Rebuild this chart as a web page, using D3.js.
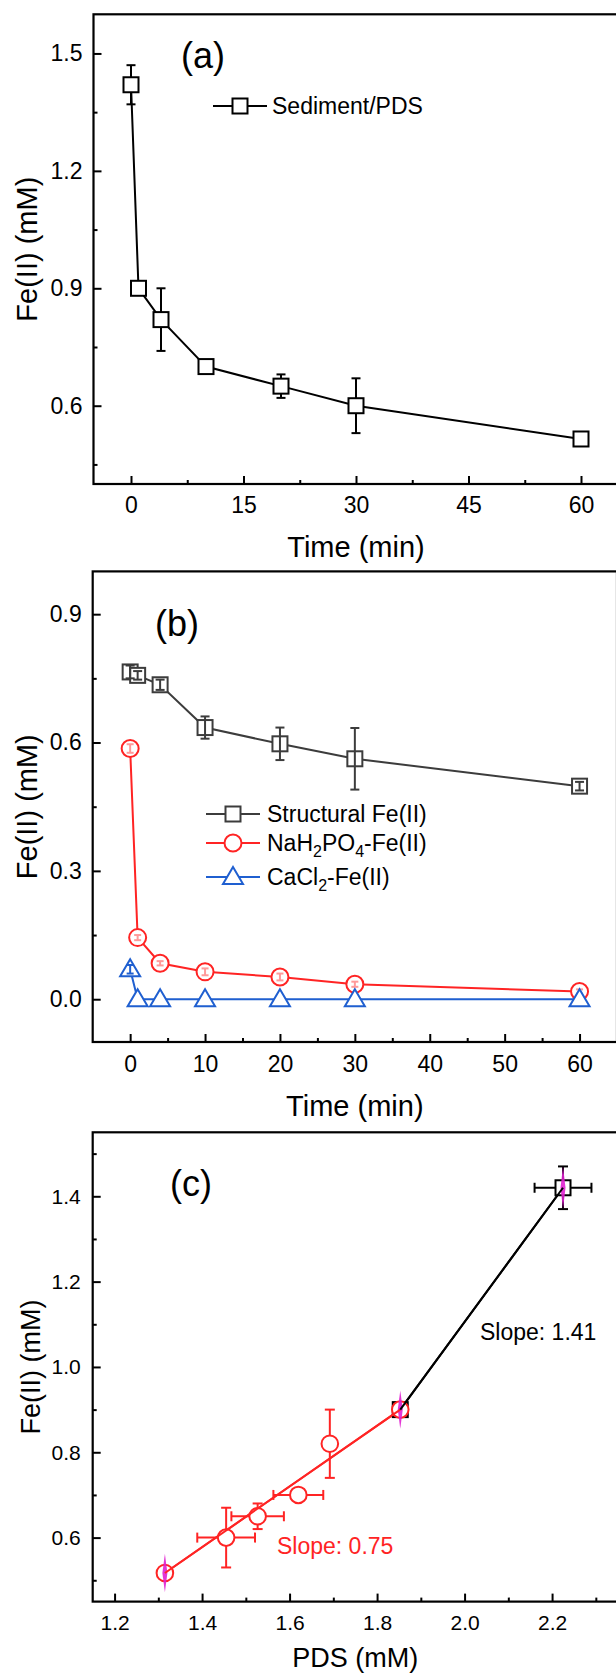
<!DOCTYPE html>
<html>
<head>
<meta charset="utf-8">
<script src="https://cdn.jsdelivr.net/npm/d3@7"></script>
<style>
  body { margin: 0; background: #fff; }
  text { font-family: "Liberation Sans", Arial, sans-serif; fill: #000; }
</style>
</head>
<body>
<div id="chart"></div>
<script>
// panel (a): Sediment/PDS
var timeA = [0, 1, 4, 10, 20, 30, 60];
var feA = [1.42, 0.90, 0.82, 0.70, 0.65, 0.60, 0.515];
var feAErr = [0.05, 0.012, 0.08, 0.012, 0.03, 0.07, 0.012];

// panel (b)
var timeB = [0, 1, 4, 10, 20, 30, 60];
var structB = [0.765, 0.757, 0.735, 0.635, 0.597, 0.562, 0.498];
var structErr = [0.015, 0.01, 0.012, 0.026, 0.038, 0.072, 0.01];
var phosB = [0.586, 0.144, 0.084, 0.064, 0.052, 0.035, 0.018];
var phosErr = [0.01, 0.006, 0.005, 0.008, 0.008, 0.006, 0.005];
var caclB = [0.07, 0, 0, 0, 0, 0, 0];
var caclErr = [0.01, 0, 0, 0, 0, 0, 0];

// panel (c)
var pdsRed = [1.315, 1.455, 1.527, 1.62, 1.692, 1.853];
var feRed = [0.517, 0.60, 0.65, 0.70, 0.82, 0.90];
var pdsRedErr = [0.005, 0.066, 0.06, 0.057, 0.005, 0.01];
var feRedErr = [0.01, 0.07, 0.03, 0.01, 0.08, 0.01];
var fitRedX = [1.315, 1.853];
var fitRedY = [0.517, 0.90];
var pdsBlack = [1.853, 2.225];
var feBlack = [0.90, 1.42];
var pdsBlackErr = [0.01, 0.065];
var feBlackErr = [0.01, 0.05];
var pinkX = [1.315, 1.853, 2.225];
var pinkY = [0.517, 0.90, 1.42];
var pinkErr = [0.045, 0.045, 0.05];

var ticksAX = [0, 15, 30, 45, 60], minorAX = [7.5, 22.5, 37.5, 52.5];
var ticksAY = [0.6, 0.9, 1.2, 1.5], minorAY = [0.45, 0.75, 1.05, 1.35];
var ticksBX = [0, 10, 20, 30, 40, 50, 60], minorBX = [5, 15, 25, 35, 45, 55];
var ticksBY = [0.0, 0.3, 0.6, 0.9], minorBY = [0.15, 0.45, 0.75];
var ticksCX = [1.2, 1.4, 1.6, 1.8, 2.0, 2.2], minorCX = [1.3, 1.5, 1.7, 1.9, 2.1, 2.3];
var ticksCY = [0.6, 0.8, 1.0, 1.2, 1.4], minorCY = [0.5, 0.7, 0.9, 1.1, 1.3, 1.5];

var RED = "#ff2424", BLUE = "#1f5fd0", GRAY = "#3c3c3c";

var svg = d3.select("#chart").append("svg")
    .attr("width", 616)
    .attr("height", 1675);

function frame(x, y, o) {
    var g = svg.append("g");
    var x0 = x.range()[0], x1 = x.range()[1], y0 = y.range()[0], y1 = y.range()[1];

    g.append("g").attr("transform", "translate(0," + y0 + ")")
        .call(d3.axisBottom(x).tickValues(o.xt).tickSize(-8).tickPadding(o.xpad).tickFormat(o.xf))
        .call(function(s) {
            s.select(".domain").remove();
            s.selectAll("line").attr("stroke-width", 2);
            s.selectAll("text").attr("font-size", o.fs).attr("font-family", null);
        });
    g.append("g").attr("transform", "translate(0," + y0 + ")")
        .call(d3.axisBottom(x).tickValues(o.xm).tickSize(-4).tickFormat(""))
        .call(function(s) {
            s.select(".domain").remove();
            s.selectAll("line").attr("stroke-width", 2);
        });
    g.append("g").attr("transform", "translate(" + x0 + ",0)")
        .call(d3.axisLeft(y).tickValues(o.yt).tickSize(-8).tickPadding(o.ypad).tickFormat(o.yf))
        .call(function(s) {
            s.select(".domain").remove();
            s.selectAll("line").attr("stroke-width", 2);
            s.selectAll("text").attr("font-size", o.fs).attr("font-family", null);
        });
    g.append("g").attr("transform", "translate(" + x0 + ",0)")
        .call(d3.axisLeft(y).tickValues(o.ym).tickSize(-4).tickFormat(""))
        .call(function(s) {
            s.select(".domain").remove();
            s.selectAll("line").attr("stroke-width", 2);
        });

    g.append("rect")
        .attr("x", x0).attr("y", y1)
        .attr("width", x1 - x0).attr("height", y0 - y1)
        .attr("fill", "none").attr("stroke", "#000").attr("stroke-width", 2.2);

    // axis titles
    g.append("text")
        .attr("x", (x0 + x1) / 2).attr("y", y0 + o.xtitleOff)
        .attr("text-anchor", "middle").attr("font-size", o.tfs)
        .text(o.xtitle);
    g.append("text")
        .attr("transform", "translate(" + o.ytitleX + "," + (y0 + y1) / 2 + ") rotate(-90)")
        .attr("text-anchor", "middle").attr("dominant-baseline", "central")
        .attr("font-size", o.tfs)
        .text("Fe(II) (mM)");
    g.append("text")
        .attr("x", o.lx).attr("y", o.ly)
        .attr("font-size", 36)
        .text(o.label);
}

function vErr(g, xs, ys, es, x, y, color, cap) {
    xs.forEach(function(d, i) {
        if (!es[i]) return;
        var cx = x(d), t = y(ys[i] + es[i]), b = y(ys[i] - es[i]);
        g.append("line").attr("x1", cx).attr("x2", cx).attr("y1", t).attr("y2", b)
            .attr("stroke", color).attr("stroke-width", 2);
        [t, b].forEach(function(v) {
            g.append("line").attr("x1", cx - cap).attr("x2", cx + cap).attr("y1", v).attr("y2", v)
                .attr("stroke", color).attr("stroke-width", 2);
        });
    });
}

function hErr(g, xs, ys, es, x, y, color, cap) {
    xs.forEach(function(d, i) {
        if (!es[i]) return;
        var cy = y(ys[i]), l = x(d - es[i]), r = x(d + es[i]);
        g.append("line").attr("x1", l).attr("x2", r).attr("y1", cy).attr("y2", cy)
            .attr("stroke", color).attr("stroke-width", 2);
        [l, r].forEach(function(v) {
            g.append("line").attr("x1", v).attr("x2", v).attr("y1", cy - cap).attr("y2", cy + cap)
                .attr("stroke", color).attr("stroke-width", 2);
        });
    });
}

function line(g, xs, ys, x, y, color) {
    g.append("path")
        .datum(xs.map(function(d, i) { return [d, ys[i]]; }))
        .attr("fill", "none").attr("stroke", color).attr("stroke-width", 2)
        .attr("d", d3.line().x(function(d) { return x(d[0]); }).y(function(d) { return y(d[1]); }));
}

function squares(g, xs, ys, x, y, color, s) {
    xs.forEach(function(d, i) {
        g.append("rect").attr("x", x(d) - s / 2).attr("y", y(ys[i]) - s / 2)
            .attr("width", s).attr("height", s)
            .attr("fill", "#fff").attr("stroke", color).attr("stroke-width", 2);
    });
}

function circles(g, xs, ys, x, y, color, r) {
    xs.forEach(function(d, i) {
        g.append("circle").attr("cx", x(d)).attr("cy", y(ys[i])).attr("r", r)
            .attr("fill", "#fff").attr("stroke", color).attr("stroke-width", 2);
    });
}

function triangles(g, xs, ys, x, y, color) {
    xs.forEach(function(d, i) {
        var cx = x(d), cy = y(ys[i]);
        g.append("path")
            .attr("d", "M" + cx + "," + (cy - 10) + "L" + (cx + 10) + "," + (cy + 7) + "L" + (cx - 10) + "," + (cy + 7) + "Z")
            .attr("fill", "#fff").attr("stroke", color).attr("stroke-width", 2);
    });
}

// ---------- (a)
var xa = d3.scaleLinear().domain([-5, 65]).range([93.5, 618.5]);
var ya = d3.scaleLinear().domain([0.4, 1.6]).range([484, 14.3]);
frame(xa, ya, {xt: ticksAX, xm: minorAX, yt: ticksAY, ym: minorAY,
    xf: d3.format("d"), yf: d3.format(".1f"), fs: 23, tfs: 29, xpad: 13, ypad: 11,
    xtitle: "Time (min)", xtitleOff: 73, ytitleX: 27, label: "(a)", lx: 181, ly: 68});
var ga = svg.append("g");
vErr(ga, timeA, feA, feAErr, xa, ya, "#000", 4.5);
line(ga, timeA, feA, xa, ya, "#000");
squares(ga, timeA, feA, xa, ya, "#000", 15);
// legend (a)
ga.append("line").attr("x1", 213).attr("x2", 267).attr("y1", 106).attr("y2", 106)
    .attr("stroke", "#000").attr("stroke-width", 2);
ga.append("rect").attr("x", 240 - 7.5).attr("y", 106 - 7.5).attr("width", 15).attr("height", 15)
    .attr("fill", "#fff").attr("stroke", "#000").attr("stroke-width", 2);
ga.append("text").attr("x", 272).attr("y", 114).attr("font-size", 23).text("Sediment/PDS");

// ---------- (b)
var xb = d3.scaleLinear().domain([-5, 65]).range([92.7, 617]);
var yb = d3.scaleLinear().domain([-0.1, 1.0]).range([1042, 571.4]);
frame(xb, yb, {xt: ticksBX, xm: minorBX, yt: ticksBY, ym: minorBY,
    xf: d3.format("d"), yf: d3.format(".1f"), fs: 23, tfs: 29, xpad: 14, ypad: 11,
    xtitle: "Time (min)", xtitleOff: 74, ytitleX: 27, label: "(b)", lx: 155, ly: 636});
var gb = svg.append("g");
line(gb, timeB, structB, xb, yb, GRAY);
squares(gb, timeB, structB, xb, yb, GRAY, 15);
vErr(gb, timeB, structB, structErr, xb, yb, GRAY, 4.5);
line(gb, timeB, phosB, xb, yb, RED);
circles(gb, timeB, phosB, xb, yb, RED, 8.5);
vErr(gb, timeB, phosB, phosErr, xb, yb, "#ff9a9a", 3.5);
line(gb, timeB, caclB, xb, yb, BLUE);
triangles(gb, timeB, caclB, xb, yb, BLUE);
vErr(gb, timeB, caclB, caclErr, xb, yb, BLUE, 3.5);

// legend (b)
var legB = [
    {y: 814, color: GRAY, mark: "square"},
    {y: 843, color: RED, mark: "circle"},
    {y: 877, color: BLUE, mark: "triangle"}
];
legB.forEach(function(d) {
    gb.append("line").attr("x1", 206).attr("x2", 260).attr("y1", d.y).attr("y2", d.y)
        .attr("stroke", d.color).attr("stroke-width", 2);
    if (d.mark == "square") squares(gb, [0], [0], function() { return 233; }, function() { return d.y; }, d.color, 15);
    if (d.mark == "circle") circles(gb, [0], [0], function() { return 233; }, function() { return d.y; }, d.color, 8.5);
    if (d.mark == "triangle") triangles(gb, [0], [0], function() { return 233; }, function() { return d.y; }, d.color);
});
gb.append("text").attr("x", 267).attr("y", 822).attr("font-size", 23).text("Structural Fe(II)");
var t2 = gb.append("text").attr("x", 267).attr("y", 851).attr("font-size", 23);
t2.append("tspan").text("NaH");
t2.append("tspan").attr("font-size", 16).attr("dy", 6).text("2");
t2.append("tspan").attr("dy", -6).text("PO");
t2.append("tspan").attr("font-size", 16).attr("dy", 6).text("4");
t2.append("tspan").attr("dy", -6).text("-Fe(II)");
var t3 = gb.append("text").attr("x", 267).attr("y", 885).attr("font-size", 23);
t3.append("tspan").text("CaCl");
t3.append("tspan").attr("font-size", 16).attr("dy", 6).text("2");
t3.append("tspan").attr("dy", -6).text("-Fe(II)");

// ---------- (c)
var xc = d3.scaleLinear().domain([1.15, 2.35]).range([92.7, 617.7]);
var yc = d3.scaleLinear().domain([0.45, 1.55]).range([1601.6, 1132.3]);
frame(xc, yc, {xt: ticksCX, xm: minorCX, yt: ticksCY, ym: minorCY,
    xf: d3.format(".1f"), yf: d3.format(".1f"), fs: 21, tfs: 27, xpad: 13, ypad: 12,
    xtitle: "PDS (mM)", xtitleOff: 65, ytitleX: 31, label: "(c)", lx: 170, ly: 1196});
var gc = svg.append("g");
line(gc, fitRedX, fitRedY, xc, yc, RED);
line(gc, pdsBlack, feBlack, xc, yc, "#000");
vErr(gc, pdsRed, feRed, feRedErr, xc, yc, RED, 5);
hErr(gc, pdsRed, feRed, pdsRedErr, xc, yc, RED, 5);
vErr(gc, pdsBlack, feBlack, feBlackErr, xc, yc, "#000", 5);
hErr(gc, pdsBlack, feBlack, pdsBlackErr, xc, yc, "#000", 5);
squares(gc, pdsBlack, feBlack, xc, yc, "#000", 15);
circles(gc, pdsRed, feRed, xc, yc, RED, 8.3);
// magenta error spindles
pinkX.forEach(function(d, i) {
    var cx = xc(d), t = yc(pinkY[i] + pinkErr[i]), b = yc(pinkY[i] - pinkErr[i]), m = yc(pinkY[i]);
    gc.append("path")
        .attr("d", "M" + cx + "," + t + "L" + (cx + 2.5) + "," + m + "L" + cx + "," + b + "L" + (cx - 2.5) + "," + m + "Z")
        .attr("fill", "#e020d0").attr("opacity", 0.9);
});
line(gc, fitRedX, fitRedY, xc, yc, RED);
line(gc, pdsBlack, feBlack, xc, yc, "#000");
gc.append("text").attr("x", 480).attr("y", 1340).attr("font-size", 23).text("Slope: 1.41");
gc.append("text").attr("x", 277).attr("y", 1554).attr("font-size", 23)
    .style("fill", RED).text("Slope: 0.75");
</script>
</body>
</html>
